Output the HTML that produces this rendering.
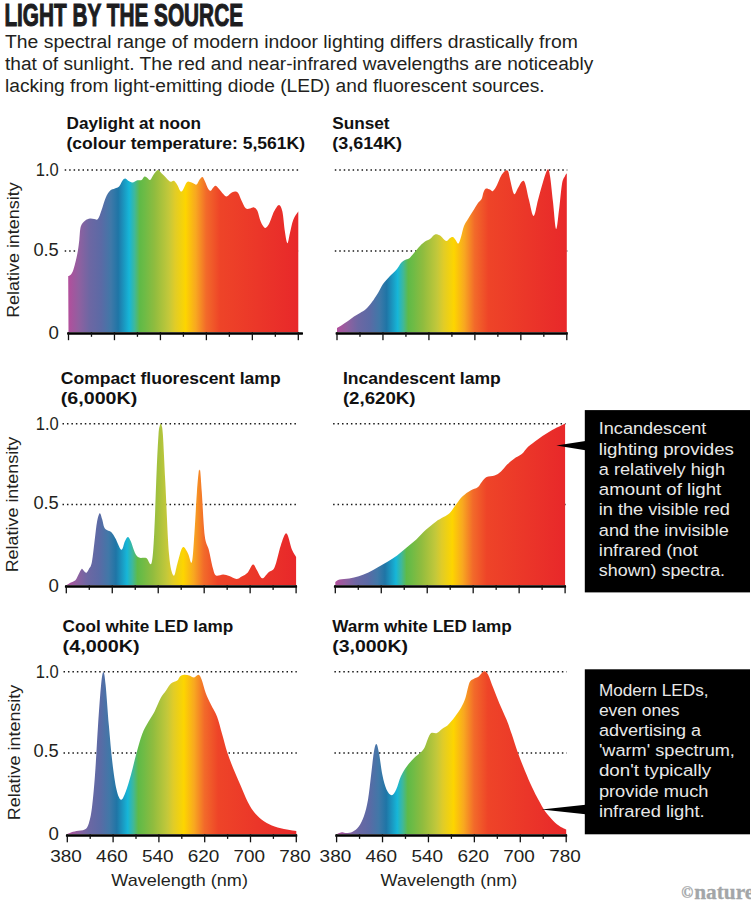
<!DOCTYPE html>
<html><head><meta charset="utf-8"><style>
html,body{margin:0;padding:0;background:#fff;}
svg{display:block;font-family:"Liberation Sans",sans-serif;}
</style></head><body>
<svg width="751" height="900" viewBox="0 0 751 900">
<defs><linearGradient id="gp1" gradientUnits="userSpaceOnUse" x1="68.5" y1="0" x2="298.3" y2="0"><stop offset="0.0" stop-color="#b24f9c"/><stop offset="0.045" stop-color="#9060a0"/><stop offset="0.091" stop-color="#6d67a3"/><stop offset="0.142" stop-color="#5b6aa5"/><stop offset="0.184" stop-color="#4078a8"/><stop offset="0.216" stop-color="#1f75a6"/><stop offset="0.264" stop-color="#16b6d8"/><stop offset="0.288" stop-color="#3fb89a"/><stop offset="0.31" stop-color="#5fba47"/><stop offset="0.33" stop-color="#6cbb46"/><stop offset="0.374" stop-color="#8fbc3f"/><stop offset="0.437" stop-color="#c4c83a"/><stop offset="0.463" stop-color="#e0cc28"/><stop offset="0.509" stop-color="#fdd500"/><stop offset="0.554" stop-color="#f8a820"/><stop offset="0.599" stop-color="#f26a2a"/><stop offset="0.659" stop-color="#ee4428"/><stop offset="1.0" stop-color="#e8282a"/></linearGradient><linearGradient id="gp2" gradientUnits="userSpaceOnUse" x1="337" y1="0" x2="566.8" y2="0"><stop offset="0.0" stop-color="#b24f9c"/><stop offset="0.045" stop-color="#9060a0"/><stop offset="0.091" stop-color="#6d67a3"/><stop offset="0.142" stop-color="#5b6aa5"/><stop offset="0.184" stop-color="#4078a8"/><stop offset="0.216" stop-color="#1f75a6"/><stop offset="0.264" stop-color="#16b6d8"/><stop offset="0.288" stop-color="#3fb89a"/><stop offset="0.31" stop-color="#5fba47"/><stop offset="0.33" stop-color="#6cbb46"/><stop offset="0.374" stop-color="#8fbc3f"/><stop offset="0.437" stop-color="#c4c83a"/><stop offset="0.463" stop-color="#e0cc28"/><stop offset="0.509" stop-color="#fdd500"/><stop offset="0.554" stop-color="#f8a820"/><stop offset="0.599" stop-color="#f26a2a"/><stop offset="0.659" stop-color="#ee4428"/><stop offset="1.0" stop-color="#e8282a"/></linearGradient><linearGradient id="gp3" gradientUnits="userSpaceOnUse" x1="66.3" y1="0" x2="296.1" y2="0"><stop offset="0.0" stop-color="#b24f9c"/><stop offset="0.045" stop-color="#9060a0"/><stop offset="0.091" stop-color="#6d67a3"/><stop offset="0.142" stop-color="#5b6aa5"/><stop offset="0.184" stop-color="#4078a8"/><stop offset="0.216" stop-color="#1f75a6"/><stop offset="0.264" stop-color="#16b6d8"/><stop offset="0.288" stop-color="#3fb89a"/><stop offset="0.31" stop-color="#5fba47"/><stop offset="0.33" stop-color="#6cbb46"/><stop offset="0.374" stop-color="#8fbc3f"/><stop offset="0.437" stop-color="#c4c83a"/><stop offset="0.463" stop-color="#e0cc28"/><stop offset="0.509" stop-color="#fdd500"/><stop offset="0.554" stop-color="#f8a820"/><stop offset="0.599" stop-color="#f26a2a"/><stop offset="0.659" stop-color="#ee4428"/><stop offset="1.0" stop-color="#e8282a"/></linearGradient><linearGradient id="gp4" gradientUnits="userSpaceOnUse" x1="335.3" y1="0" x2="565.1" y2="0"><stop offset="0.0" stop-color="#b24f9c"/><stop offset="0.045" stop-color="#9060a0"/><stop offset="0.091" stop-color="#6d67a3"/><stop offset="0.142" stop-color="#5b6aa5"/><stop offset="0.184" stop-color="#4078a8"/><stop offset="0.216" stop-color="#1f75a6"/><stop offset="0.264" stop-color="#16b6d8"/><stop offset="0.288" stop-color="#3fb89a"/><stop offset="0.31" stop-color="#5fba47"/><stop offset="0.33" stop-color="#6cbb46"/><stop offset="0.374" stop-color="#8fbc3f"/><stop offset="0.437" stop-color="#c4c83a"/><stop offset="0.463" stop-color="#e0cc28"/><stop offset="0.509" stop-color="#fdd500"/><stop offset="0.554" stop-color="#f8a820"/><stop offset="0.599" stop-color="#f26a2a"/><stop offset="0.659" stop-color="#ee4428"/><stop offset="1.0" stop-color="#e8282a"/></linearGradient><linearGradient id="gp5" gradientUnits="userSpaceOnUse" x1="67.3" y1="0" x2="296.3" y2="0"><stop offset="0.0" stop-color="#b24f9c"/><stop offset="0.045" stop-color="#9060a0"/><stop offset="0.091" stop-color="#6d67a3"/><stop offset="0.142" stop-color="#5b6aa5"/><stop offset="0.184" stop-color="#4078a8"/><stop offset="0.216" stop-color="#1f75a6"/><stop offset="0.264" stop-color="#16b6d8"/><stop offset="0.288" stop-color="#3fb89a"/><stop offset="0.31" stop-color="#5fba47"/><stop offset="0.33" stop-color="#6cbb46"/><stop offset="0.374" stop-color="#8fbc3f"/><stop offset="0.437" stop-color="#c4c83a"/><stop offset="0.463" stop-color="#e0cc28"/><stop offset="0.509" stop-color="#fdd500"/><stop offset="0.554" stop-color="#f8a820"/><stop offset="0.599" stop-color="#f26a2a"/><stop offset="0.659" stop-color="#ee4428"/><stop offset="1.0" stop-color="#e8282a"/></linearGradient><linearGradient id="gp6" gradientUnits="userSpaceOnUse" x1="336.6" y1="0" x2="566.2" y2="0"><stop offset="0.0" stop-color="#b24f9c"/><stop offset="0.045" stop-color="#9060a0"/><stop offset="0.091" stop-color="#6d67a3"/><stop offset="0.142" stop-color="#5b6aa5"/><stop offset="0.184" stop-color="#4078a8"/><stop offset="0.216" stop-color="#1f75a6"/><stop offset="0.264" stop-color="#16b6d8"/><stop offset="0.288" stop-color="#3fb89a"/><stop offset="0.31" stop-color="#5fba47"/><stop offset="0.33" stop-color="#6cbb46"/><stop offset="0.374" stop-color="#8fbc3f"/><stop offset="0.437" stop-color="#c4c83a"/><stop offset="0.463" stop-color="#e0cc28"/><stop offset="0.509" stop-color="#fdd500"/><stop offset="0.554" stop-color="#f8a820"/><stop offset="0.599" stop-color="#f26a2a"/><stop offset="0.659" stop-color="#ee4428"/><stop offset="1.0" stop-color="#e8282a"/></linearGradient></defs>
<line x1="64.7" y1="169.9" x2="298.8" y2="169.9" stroke="#1a1a1a" stroke-width="1.5" stroke-dasharray="1.5 2.96"/>
<line x1="64.7" y1="251.1" x2="298.8" y2="251.1" stroke="#1a1a1a" stroke-width="1.5" stroke-dasharray="1.5 2.96"/>
<path d="M68.50,332.20 L68.20,276.00 C68.62,275.78 69.85,275.70 70.70,274.70 C71.55,273.70 72.42,272.45 73.30,270.00 C74.18,267.55 75.22,263.33 76.00,260.00 C76.78,256.67 77.45,253.33 78.00,250.00 C78.55,246.67 78.83,243.90 79.30,240.00 C79.77,236.10 79.85,229.80 80.80,226.60 C81.75,223.40 83.47,222.13 85.00,220.80 C86.53,219.47 88.48,218.88 90.00,218.60 C91.52,218.32 92.78,219.02 94.10,219.10 C95.42,219.18 96.65,220.63 97.90,219.10 C99.15,217.57 100.28,213.50 101.60,209.90 C102.92,206.30 104.40,200.68 105.80,197.50 C107.20,194.32 108.48,192.28 110.00,190.80 C111.52,189.32 113.38,189.30 114.90,188.60 C116.42,187.90 117.85,187.90 119.10,186.60 C120.35,185.30 121.38,182.13 122.40,180.80 C123.42,179.47 124.23,178.60 125.20,178.60 C126.17,178.60 127.00,180.15 128.20,180.80 C129.40,181.45 130.87,182.58 132.40,182.50 C133.93,182.42 135.87,180.72 137.40,180.30 C138.93,179.88 140.40,180.62 141.60,180.00 C142.80,179.38 143.63,176.93 144.60,176.60 C145.57,176.27 146.47,177.43 147.40,178.00 C148.33,178.57 149.10,180.65 150.20,180.00 C151.30,179.35 152.72,175.77 154.00,174.10 C155.28,172.43 156.65,170.13 157.90,170.00 C159.15,169.87 160.33,172.20 161.50,173.30 C162.67,174.40 163.50,175.22 164.90,176.60 C166.30,177.98 168.38,180.90 169.90,181.60 C171.42,182.30 172.77,180.23 174.00,180.80 C175.23,181.37 176.05,183.20 177.30,185.00 C178.55,186.80 179.93,192.02 181.50,191.60 C183.07,191.18 185.28,184.10 186.70,182.50 C188.12,180.90 188.90,181.87 190.00,182.00 C191.10,182.13 192.20,182.87 193.30,183.30 C194.40,183.73 195.55,185.22 196.60,184.60 C197.65,183.98 198.62,180.87 199.60,179.60 C200.58,178.33 201.60,176.67 202.50,177.00 C203.40,177.33 204.03,179.58 205.00,181.60 C205.97,183.62 207.33,187.57 208.30,189.10 C209.27,190.63 209.97,191.07 210.80,190.80 C211.63,190.53 212.47,188.33 213.30,187.50 C214.13,186.67 214.83,185.53 215.80,185.80 C216.77,186.07 217.85,187.72 219.10,189.10 C220.35,190.48 222.05,192.85 223.30,194.10 C224.55,195.35 225.35,196.73 226.60,196.60 C227.85,196.47 229.42,194.13 230.80,193.30 C232.18,192.47 233.65,191.60 234.90,191.60 C236.15,191.60 237.18,191.77 238.30,193.30 C239.42,194.83 240.37,198.30 241.60,200.80 C242.83,203.30 244.32,207.00 245.70,208.30 C247.08,209.60 248.50,208.75 249.90,208.60 C251.30,208.45 252.85,207.03 254.10,207.40 C255.35,207.77 256.30,208.43 257.40,210.80 C258.50,213.17 259.45,218.75 260.70,221.60 C261.95,224.45 263.52,227.48 264.90,227.90 C266.28,228.32 267.48,226.82 269.00,224.10 C270.52,221.38 272.33,214.80 274.00,211.60 C275.67,208.40 277.60,204.90 279.00,204.90 C280.40,204.90 281.42,207.15 282.40,211.60 C283.38,216.05 284.07,226.33 284.90,231.60 C285.73,236.87 286.57,242.93 287.40,243.20 C288.23,243.47 288.93,237.08 289.90,233.20 C290.87,229.32 291.82,223.52 293.20,219.90 C294.58,216.28 297.37,212.90 298.20,211.50 L298.30,211.50 L298.30,332.20 Z" fill="url(#gp1)"/>
<rect x="67.10" y="332.20" width="235.90" height="2.5" rx="0.6" fill="#000"/>
<rect x="67.85" y="332.20" width="1.3" height="8" fill="#111"/>
<rect x="90.83" y="332.20" width="1.3" height="4.6" fill="#111"/>
<rect x="113.81" y="332.20" width="1.3" height="8" fill="#111"/>
<rect x="136.79" y="332.20" width="1.3" height="4.6" fill="#111"/>
<rect x="159.77" y="332.20" width="1.3" height="8" fill="#111"/>
<rect x="182.75" y="332.20" width="1.3" height="4.6" fill="#111"/>
<rect x="205.73" y="332.20" width="1.3" height="8" fill="#111"/>
<rect x="228.71" y="332.20" width="1.3" height="4.6" fill="#111"/>
<rect x="251.69" y="332.20" width="1.3" height="8" fill="#111"/>
<rect x="274.67" y="332.20" width="1.3" height="4.6" fill="#111"/>
<rect x="297.65" y="332.20" width="1.3" height="8" fill="#111"/>
<line x1="334.8" y1="169.9" x2="567.3" y2="169.9" stroke="#1a1a1a" stroke-width="1.5" stroke-dasharray="1.5 2.96"/>
<line x1="334.8" y1="251.1" x2="567.3" y2="251.1" stroke="#1a1a1a" stroke-width="1.5" stroke-dasharray="1.5 2.96"/>
<path d="M337.00,332.20 L337.00,328.00 C337.83,327.50 340.17,326.17 342.00,325.00 C343.83,323.83 346.00,322.40 348.00,321.00 C350.00,319.60 352.00,317.93 354.00,316.60 C356.00,315.27 358.00,314.27 360.00,313.00 C362.00,311.73 364.00,310.83 366.00,309.00 C368.00,307.17 370.00,304.67 372.00,302.00 C374.00,299.33 376.17,296.00 378.00,293.00 C379.83,290.00 381.00,286.83 383.00,284.00 C385.00,281.17 387.67,278.50 390.00,276.00 C392.33,273.50 395.17,271.17 397.00,269.00 C398.83,266.83 399.67,264.50 401.00,263.00 C402.33,261.50 403.67,260.73 405.00,260.00 C406.33,259.27 407.50,259.77 409.00,258.60 C410.50,257.43 412.17,255.10 414.00,253.00 C415.83,250.90 418.17,247.90 420.00,246.00 C421.83,244.10 423.33,242.77 425.00,241.60 C426.67,240.43 428.33,240.20 430.00,239.00 C431.67,237.80 433.33,234.97 435.00,234.40 C436.67,233.83 438.17,234.50 440.00,235.60 C441.83,236.70 444.33,240.60 446.00,241.00 C447.67,241.40 448.83,238.67 450.00,238.00 C451.17,237.33 452.07,236.67 453.00,237.00 C453.93,237.33 454.70,238.90 455.60,240.00 C456.50,241.10 457.50,244.10 458.40,243.60 C459.30,243.10 460.07,239.93 461.00,237.00 C461.93,234.07 462.83,229.00 464.00,226.00 C465.17,223.00 466.50,221.50 468.00,219.00 C469.50,216.50 471.33,213.67 473.00,211.00 C474.67,208.33 476.57,205.00 478.00,203.00 C479.43,201.00 480.67,200.83 481.60,199.00 C482.53,197.17 482.87,193.73 483.60,192.00 C484.33,190.27 484.93,189.00 486.00,188.60 C487.07,188.20 488.83,189.20 490.00,189.60 C491.17,190.00 491.83,191.77 493.00,191.00 C494.17,190.23 495.67,187.50 497.00,185.00 C498.33,182.50 499.67,178.33 501.00,176.00 C502.33,173.67 503.83,171.83 505.00,171.00 C506.17,170.17 507.17,169.67 508.00,171.00 C508.83,172.33 509.00,175.17 510.00,179.00 C511.00,182.83 512.67,192.50 514.00,194.00 C515.33,195.50 516.67,190.07 518.00,188.00 C519.33,185.93 520.83,182.43 522.00,181.60 C523.17,180.77 523.83,179.93 525.00,183.00 C526.17,186.07 527.57,194.50 529.00,200.00 C530.43,205.50 532.10,216.00 533.60,216.00 C535.10,216.00 536.43,205.67 538.00,200.00 C539.57,194.33 541.40,187.07 543.00,182.00 C544.60,176.93 546.43,170.60 547.60,169.60 C548.77,168.60 549.10,170.60 550.00,176.00 C550.90,181.40 552.00,193.17 553.00,202.00 C554.00,210.83 555.00,227.67 556.00,229.00 C557.00,230.33 558.00,217.50 559.00,210.00 C560.00,202.50 561.00,189.67 562.00,184.00 C563.00,178.33 564.17,177.83 565.00,176.00 C565.83,174.17 566.67,173.50 567.00,173.00 L566.80,173.00 L566.80,332.20 Z" fill="url(#gp2)"/>
<rect x="335.60" y="332.20" width="232.20" height="2.5" rx="0.6" fill="#000"/>
<rect x="336.35" y="332.20" width="1.3" height="8" fill="#111"/>
<rect x="359.33" y="332.20" width="1.3" height="4.6" fill="#111"/>
<rect x="382.31" y="332.20" width="1.3" height="8" fill="#111"/>
<rect x="405.29" y="332.20" width="1.3" height="4.6" fill="#111"/>
<rect x="428.27" y="332.20" width="1.3" height="8" fill="#111"/>
<rect x="451.25" y="332.20" width="1.3" height="4.6" fill="#111"/>
<rect x="474.23" y="332.20" width="1.3" height="8" fill="#111"/>
<rect x="497.21" y="332.20" width="1.3" height="4.6" fill="#111"/>
<rect x="520.19" y="332.20" width="1.3" height="8" fill="#111"/>
<rect x="543.17" y="332.20" width="1.3" height="4.6" fill="#111"/>
<rect x="566.15" y="332.20" width="1.3" height="8" fill="#111"/>
<line x1="62.5" y1="423.8" x2="296.6" y2="423.8" stroke="#1a1a1a" stroke-width="1.5" stroke-dasharray="1.5 2.96"/>
<line x1="62.5" y1="504.6" x2="296.6" y2="504.6" stroke="#1a1a1a" stroke-width="1.5" stroke-dasharray="1.5 2.96"/>
<path d="M66.30,585.30 L66.30,585.20 C66.97,584.78 68.78,583.53 70.30,582.70 C71.82,581.87 74.03,581.57 75.40,580.20 C76.77,578.83 77.47,576.38 78.50,574.50 C79.53,572.62 80.75,569.58 81.60,568.90 C82.45,568.22 82.82,569.75 83.60,570.40 C84.38,571.05 85.43,572.98 86.30,572.80 C87.17,572.62 87.87,571.08 88.80,569.30 C89.73,567.52 90.87,567.40 91.90,562.10 C92.93,556.80 94.15,544.18 95.00,537.50 C95.85,530.82 96.22,526.05 97.00,522.00 C97.78,517.95 98.85,513.70 99.70,513.20 C100.55,512.70 101.35,516.67 102.10,519.00 C102.85,521.33 103.33,525.32 104.20,527.20 C105.07,529.08 106.10,529.45 107.30,530.30 C108.50,531.15 110.03,530.93 111.40,532.30 C112.77,533.67 113.85,535.58 115.50,538.50 C117.15,541.42 119.75,549.28 121.30,549.80 C122.85,550.32 123.72,543.73 124.80,541.60 C125.88,539.47 126.78,537.00 127.80,537.00 C128.82,537.00 129.70,538.95 130.90,541.60 C132.10,544.25 133.62,550.23 135.00,552.90 C136.38,555.57 137.32,556.75 139.20,557.60 C141.08,558.45 144.25,557.07 146.30,558.00 C148.35,558.93 150.18,567.30 151.50,563.20 C152.82,559.10 153.35,548.65 154.20,533.40 C155.05,518.15 155.88,488.15 156.60,471.70 C157.32,455.25 157.95,442.45 158.50,434.70 C159.05,426.95 159.53,426.95 159.90,425.20 C160.27,423.45 160.43,424.20 160.70,424.20 C160.97,424.20 161.13,423.45 161.50,425.20 C161.87,426.95 162.27,425.23 162.90,434.70 C163.53,444.17 164.28,462.13 165.30,482.00 C166.32,501.87 167.63,538.32 169.00,553.90 C170.37,569.48 172.13,573.78 173.50,575.50 C174.87,577.22 175.90,568.48 177.20,564.20 C178.50,559.92 180.15,552.62 181.30,549.80 C182.45,546.98 182.95,546.62 184.10,547.30 C185.25,547.98 186.90,551.43 188.20,553.90 C189.50,556.37 190.87,565.52 191.90,562.10 C192.93,558.68 193.57,545.05 194.40,533.40 C195.23,521.75 196.18,502.47 196.90,492.20 C197.62,481.93 198.27,475.40 198.70,471.80 C199.13,468.20 199.23,470.60 199.50,470.60 C199.77,470.60 199.92,468.20 200.30,471.80 C200.68,475.40 201.07,481.60 201.80,492.20 C202.53,502.80 203.53,525.80 204.70,535.40 C205.87,545.00 207.43,544.32 208.80,549.80 C210.17,555.28 211.70,564.02 212.90,568.30 C214.10,572.58 214.28,574.47 216.00,575.50 C217.72,576.53 220.98,574.40 223.20,574.50 C225.42,574.60 227.08,575.35 229.30,576.10 C231.52,576.85 234.43,578.93 236.50,579.00 C238.57,579.07 239.82,577.60 241.70,576.50 C243.58,575.40 245.92,574.38 247.80,572.40 C249.68,570.42 251.45,564.93 253.00,564.60 C254.55,564.27 255.57,568.13 257.10,570.40 C258.63,572.67 260.32,577.87 262.20,578.20 C264.08,578.53 266.33,574.22 268.40,572.40 C270.47,570.58 272.55,571.75 274.60,567.30 C276.65,562.85 278.72,551.35 280.70,545.70 C282.68,540.05 284.62,532.72 286.50,533.40 C288.38,534.08 290.40,545.87 292.00,549.80 C293.60,553.73 295.42,555.80 296.10,557.00 L296.10,557.00 L296.10,585.30 Z" fill="url(#gp3)"/>
<rect x="64.90" y="585.30" width="232.20" height="2.5" rx="0.6" fill="#000"/>
<rect x="65.65" y="585.30" width="1.3" height="8" fill="#111"/>
<rect x="88.63" y="585.30" width="1.3" height="4.6" fill="#111"/>
<rect x="111.61" y="585.30" width="1.3" height="8" fill="#111"/>
<rect x="134.59" y="585.30" width="1.3" height="4.6" fill="#111"/>
<rect x="157.57" y="585.30" width="1.3" height="8" fill="#111"/>
<rect x="180.55" y="585.30" width="1.3" height="4.6" fill="#111"/>
<rect x="203.53" y="585.30" width="1.3" height="8" fill="#111"/>
<rect x="226.51" y="585.30" width="1.3" height="4.6" fill="#111"/>
<rect x="249.49" y="585.30" width="1.3" height="8" fill="#111"/>
<rect x="272.47" y="585.30" width="1.3" height="4.6" fill="#111"/>
<rect x="295.45" y="585.30" width="1.3" height="8" fill="#111"/>
<line x1="333.1" y1="423.8" x2="565.6" y2="423.8" stroke="#1a1a1a" stroke-width="1.5" stroke-dasharray="1.5 2.96"/>
<line x1="333.1" y1="504.6" x2="565.6" y2="504.6" stroke="#1a1a1a" stroke-width="1.5" stroke-dasharray="1.5 2.96"/>
<path d="M335.30,585.30 L335.30,582.00 C336.02,581.57 337.28,580.00 339.60,579.40 C341.92,578.80 346.00,578.93 349.20,578.40 C352.40,577.87 355.60,577.20 358.80,576.20 C362.00,575.20 365.22,573.90 368.40,572.40 C371.58,570.90 374.72,568.97 377.90,567.20 C381.08,565.43 384.30,563.77 387.50,561.80 C390.70,559.83 393.90,557.80 397.10,555.40 C400.30,553.00 403.50,550.07 406.70,547.40 C409.90,544.73 413.10,542.33 416.30,539.40 C419.50,536.47 422.70,532.72 425.90,529.80 C429.10,526.88 432.57,524.02 435.50,521.90 C438.43,519.78 441.12,518.60 443.50,517.10 C445.88,515.60 447.68,515.03 449.80,512.90 C451.92,510.77 454.07,507.07 456.20,504.30 C458.33,501.53 460.20,498.60 462.60,496.30 C465.00,494.00 468.08,492.00 470.60,490.50 C473.12,489.00 475.83,488.73 477.70,487.30 C479.57,485.87 480.32,483.60 481.80,481.90 C483.28,480.20 484.47,478.17 486.60,477.10 C488.73,476.03 492.20,476.45 494.60,475.50 C497.00,474.55 498.87,473.27 501.00,471.40 C503.13,469.53 505.27,466.38 507.40,464.30 C509.53,462.22 511.40,460.60 513.80,458.90 C516.20,457.20 519.42,456.12 521.80,454.10 C524.18,452.08 525.45,449.25 528.10,446.80 C530.75,444.35 534.50,441.70 537.70,439.40 C540.90,437.10 544.10,434.97 547.30,433.00 C550.50,431.03 553.93,429.20 556.90,427.60 C559.87,426.00 563.73,424.10 565.10,423.40 L565.10,423.40 L565.10,585.30 Z" fill="url(#gp4)"/>
<rect x="333.90" y="585.30" width="232.20" height="2.5" rx="0.6" fill="#000"/>
<rect x="334.65" y="585.30" width="1.3" height="8" fill="#111"/>
<rect x="357.63" y="585.30" width="1.3" height="4.6" fill="#111"/>
<rect x="380.61" y="585.30" width="1.3" height="8" fill="#111"/>
<rect x="403.59" y="585.30" width="1.3" height="4.6" fill="#111"/>
<rect x="426.57" y="585.30" width="1.3" height="8" fill="#111"/>
<rect x="449.55" y="585.30" width="1.3" height="4.6" fill="#111"/>
<rect x="472.53" y="585.30" width="1.3" height="8" fill="#111"/>
<rect x="495.51" y="585.30" width="1.3" height="4.6" fill="#111"/>
<rect x="518.49" y="585.30" width="1.3" height="8" fill="#111"/>
<rect x="541.47" y="585.30" width="1.3" height="4.6" fill="#111"/>
<rect x="564.45" y="585.30" width="1.3" height="8" fill="#111"/>
<line x1="63.5" y1="671.7" x2="296.8" y2="671.7" stroke="#1a1a1a" stroke-width="1.5" stroke-dasharray="1.5 2.96"/>
<line x1="63.5" y1="753.1" x2="296.8" y2="753.1" stroke="#1a1a1a" stroke-width="1.5" stroke-dasharray="1.5 2.96"/>
<path d="M67.30,834.30 L67.30,834.00 C67.80,833.78 68.78,833.20 70.30,832.70 C71.82,832.20 74.00,831.52 76.40,831.00 C78.80,830.48 82.63,830.87 84.70,829.60 C86.77,828.33 87.60,827.00 88.80,823.40 C90.00,819.80 90.87,816.05 91.90,808.00 C92.93,799.95 93.98,788.80 95.00,775.10 C96.02,761.40 96.98,740.87 98.00,725.80 C99.02,710.73 100.20,693.68 101.10,684.70 C102.00,675.72 102.65,671.90 103.40,671.90 C104.15,671.90 104.68,675.72 105.60,684.70 C106.52,693.68 107.77,712.78 108.90,725.80 C110.03,738.82 111.13,752.18 112.40,762.80 C113.67,773.42 115.05,783.33 116.50,789.50 C117.95,795.67 119.55,799.45 121.10,799.80 C122.65,800.15 124.17,795.72 125.80,791.60 C127.43,787.48 129.18,781.27 130.90,775.10 C132.62,768.93 134.22,761.45 136.10,754.60 C137.98,747.75 140.15,739.48 142.20,734.00 C144.25,728.52 146.33,725.47 148.40,721.70 C150.47,717.93 152.55,715.35 154.60,711.40 C156.65,707.45 158.82,701.43 160.70,698.00 C162.58,694.57 164.18,693.20 165.90,690.80 C167.62,688.40 169.12,685.30 171.00,683.60 C172.88,681.90 175.70,681.80 177.20,680.60 C178.70,679.40 178.85,677.37 180.00,676.40 C181.15,675.43 182.55,674.97 184.10,674.80 C185.65,674.63 187.65,674.95 189.30,675.40 C190.95,675.85 192.47,677.60 194.00,677.50 C195.53,677.40 197.23,674.47 198.50,674.80 C199.77,675.13 200.40,676.48 201.60,679.50 C202.80,682.52 204.17,688.78 205.70,692.90 C207.23,697.02 208.92,700.27 210.80,704.20 C212.68,708.13 215.12,711.53 217.00,716.50 C218.88,721.47 220.38,728.00 222.10,734.00 C223.82,740.00 225.40,746.67 227.30,752.50 C229.20,758.33 231.28,763.52 233.50,769.00 C235.72,774.48 238.22,779.92 240.60,785.40 C242.98,790.88 245.40,797.27 247.80,801.90 C250.20,806.53 252.25,809.95 255.00,813.20 C257.75,816.45 261.03,819.18 264.30,821.40 C267.57,823.62 270.83,825.13 274.60,826.50 C278.37,827.87 283.28,828.85 286.90,829.60 C290.52,830.35 294.73,830.77 296.30,831.00 L296.30,831.00 L296.30,834.30 Z" fill="url(#gp5)"/>
<rect x="65.90" y="834.30" width="231.40" height="2.5" rx="0.6" fill="#000"/>
<rect x="66.65" y="834.30" width="1.3" height="8" fill="#111"/>
<rect x="89.55" y="834.30" width="1.3" height="4.6" fill="#111"/>
<rect x="112.45" y="834.30" width="1.3" height="8" fill="#111"/>
<rect x="135.35" y="834.30" width="1.3" height="4.6" fill="#111"/>
<rect x="158.25" y="834.30" width="1.3" height="8" fill="#111"/>
<rect x="181.15" y="834.30" width="1.3" height="4.6" fill="#111"/>
<rect x="204.05" y="834.30" width="1.3" height="8" fill="#111"/>
<rect x="226.95" y="834.30" width="1.3" height="4.6" fill="#111"/>
<rect x="249.85" y="834.30" width="1.3" height="8" fill="#111"/>
<rect x="272.75" y="834.30" width="1.3" height="4.6" fill="#111"/>
<rect x="295.65" y="834.30" width="1.3" height="8" fill="#111"/>
<line x1="334.4" y1="671.7" x2="566.7" y2="671.7" stroke="#1a1a1a" stroke-width="1.5" stroke-dasharray="1.5 2.96"/>
<line x1="334.4" y1="753.1" x2="566.7" y2="753.1" stroke="#1a1a1a" stroke-width="1.5" stroke-dasharray="1.5 2.96"/>
<path d="M336.60,834.30 L337.20,834.00 C337.55,833.85 338.38,833.38 339.30,833.10 C340.22,832.82 341.52,832.30 342.70,832.30 C343.88,832.30 344.75,833.20 346.40,833.10 C348.05,833.00 350.53,832.80 352.60,831.70 C354.67,830.60 356.92,829.07 358.80,826.50 C360.68,823.93 362.37,820.75 363.90,816.30 C365.43,811.85 366.80,806.67 368.00,799.80 C369.20,792.93 370.13,782.98 371.10,775.10 C372.07,767.22 372.93,757.70 373.80,752.50 C374.67,747.30 375.45,743.90 376.30,743.90 C377.15,743.90 377.88,747.30 378.90,752.50 C379.92,757.70 381.13,768.93 382.40,775.10 C383.67,781.27 384.95,786.13 386.50,789.50 C388.05,792.87 390.08,795.30 391.70,795.30 C393.32,795.30 394.67,792.68 396.20,789.50 C397.73,786.32 399.08,780.13 400.90,776.20 C402.72,772.27 404.87,768.98 407.10,765.90 C409.33,762.82 412.07,759.93 414.30,757.70 C416.53,755.47 418.78,754.22 420.50,752.50 C422.22,750.78 423.40,749.62 424.60,747.40 C425.80,745.18 426.60,741.60 427.70,739.20 C428.80,736.80 429.67,734.03 431.20,733.00 C432.73,731.97 435.10,733.68 436.90,733.00 C438.70,732.32 440.28,730.10 442.00,728.90 C443.72,727.70 445.65,727.07 447.20,725.80 C448.75,724.53 449.98,722.85 451.30,721.30 C452.62,719.75 453.43,718.83 455.10,716.50 C456.77,714.17 459.58,710.38 461.30,707.30 C463.02,704.22 464.03,702.12 465.40,698.00 C466.77,693.88 468.13,685.78 469.50,682.60 C470.87,679.42 472.05,679.93 473.60,678.90 C475.15,677.87 477.08,677.67 478.80,676.40 C480.52,675.13 482.37,671.63 483.90,671.30 C485.43,670.97 486.45,671.65 488.00,674.40 C489.55,677.15 491.32,683.00 493.20,687.80 C495.08,692.60 497.08,697.90 499.30,703.20 C501.52,708.50 504.43,714.47 506.50,719.60 C508.57,724.73 509.82,728.52 511.70,734.00 C513.58,739.48 515.58,746.33 517.80,752.50 C520.02,758.67 522.60,765.17 525.00,771.00 C527.40,776.83 529.97,782.70 532.20,787.50 C534.43,792.30 536.17,795.70 538.40,799.80 C540.63,803.90 542.85,808.33 545.60,812.10 C548.35,815.87 552.17,819.82 554.90,822.40 C557.63,824.98 560.12,826.40 562.00,827.60 C563.88,828.80 565.50,829.27 566.20,829.60 L566.20,829.60 L566.20,834.30 Z" fill="url(#gp6)"/>
<rect x="335.20" y="834.30" width="232.00" height="2.5" rx="0.6" fill="#000"/>
<rect x="335.95" y="834.30" width="1.3" height="8" fill="#111"/>
<rect x="358.91" y="834.30" width="1.3" height="4.6" fill="#111"/>
<rect x="381.87" y="834.30" width="1.3" height="8" fill="#111"/>
<rect x="404.83" y="834.30" width="1.3" height="4.6" fill="#111"/>
<rect x="427.79" y="834.30" width="1.3" height="8" fill="#111"/>
<rect x="450.75" y="834.30" width="1.3" height="4.6" fill="#111"/>
<rect x="473.71" y="834.30" width="1.3" height="8" fill="#111"/>
<rect x="496.67" y="834.30" width="1.3" height="4.6" fill="#111"/>
<rect x="519.63" y="834.30" width="1.3" height="8" fill="#111"/>
<rect x="542.59" y="834.30" width="1.3" height="4.6" fill="#111"/>
<rect x="565.55" y="834.30" width="1.3" height="8" fill="#111"/>
<text x="58.8" y="176.4" font-size="17.6" font-weight="normal" text-anchor="end" fill="#231f20" textLength="23" lengthAdjust="spacingAndGlyphs">1.0</text>
<text x="58.8" y="255.6" font-size="17.6" font-weight="normal" text-anchor="end" fill="#231f20" textLength="25.4" lengthAdjust="spacingAndGlyphs">0.5</text>
<text x="58.8" y="338.6" font-size="17.6" font-weight="normal" text-anchor="end" fill="#231f20" textLength="10.4" lengthAdjust="spacingAndGlyphs">0</text>
<text transform="translate(19.0,250.1) rotate(-90)" font-size="16.4" text-anchor="middle" fill="#231f20" textLength="135.5" lengthAdjust="spacingAndGlyphs">Relative intensity</text>
<text x="58.8" y="429.9" font-size="17.6" font-weight="normal" text-anchor="end" fill="#231f20" textLength="23" lengthAdjust="spacingAndGlyphs">1.0</text>
<text x="58.8" y="508.7" font-size="17.6" font-weight="normal" text-anchor="end" fill="#231f20" textLength="25.4" lengthAdjust="spacingAndGlyphs">0.5</text>
<text x="58.8" y="592.2" font-size="17.6" font-weight="normal" text-anchor="end" fill="#231f20" textLength="10.4" lengthAdjust="spacingAndGlyphs">0</text>
<text transform="translate(17.8,504.6) rotate(-90)" font-size="16.4" text-anchor="middle" fill="#231f20" textLength="135.5" lengthAdjust="spacingAndGlyphs">Relative intensity</text>
<text x="58.8" y="677.6" font-size="17.6" font-weight="normal" text-anchor="end" fill="#231f20" textLength="23" lengthAdjust="spacingAndGlyphs">1.0</text>
<text x="58.8" y="756.7" font-size="17.6" font-weight="normal" text-anchor="end" fill="#231f20" textLength="25.4" lengthAdjust="spacingAndGlyphs">0.5</text>
<text x="58.8" y="840.2" font-size="17.6" font-weight="normal" text-anchor="end" fill="#231f20" textLength="10.4" lengthAdjust="spacingAndGlyphs">0</text>
<text transform="translate(19.9,752.5) rotate(-90)" font-size="16.4" text-anchor="middle" fill="#231f20" textLength="135.5" lengthAdjust="spacingAndGlyphs">Relative intensity</text>
<text x="4.4" y="25.7" font-size="31.8" font-weight="bold" text-anchor="start" fill="#1d1d1f" textLength="238.6" lengthAdjust="spacingAndGlyphs" stroke="#1d1d1f" stroke-width="1.1" stroke-linejoin="miter">LIGHT BY THE SOURCE</text>
<text x="5" y="48.3" font-size="17.6" font-weight="normal" text-anchor="start" fill="#231f20" textLength="572.8" lengthAdjust="spacingAndGlyphs">The spectral range of modern indoor lighting differs drastically from</text>
<text x="5" y="70.2" font-size="17.6" font-weight="normal" text-anchor="start" fill="#231f20" textLength="588.2" lengthAdjust="spacingAndGlyphs">that of sunlight. The red and near-infrared wavelengths are noticeably</text>
<text x="5" y="91.80000000000001" font-size="17.6" font-weight="normal" text-anchor="start" fill="#231f20" textLength="539.6" lengthAdjust="spacingAndGlyphs">lacking from light-emitting diode (LED) and fluorescent sources.</text>
<text x="66.5" y="128.7" font-size="15.6" font-weight="bold" text-anchor="start" fill="#111" textLength="134.6" lengthAdjust="spacingAndGlyphs">Daylight at noon</text>
<text x="66.5" y="148.5" font-size="15.6" font-weight="bold" text-anchor="start" fill="#111" textLength="238.5" lengthAdjust="spacingAndGlyphs">(colour temperature: 5,561K)</text>
<text x="332.2" y="128.7" font-size="15.6" font-weight="bold" text-anchor="start" fill="#111" textLength="57.4" lengthAdjust="spacingAndGlyphs">Sunset</text>
<text x="332.2" y="148.5" font-size="15.6" font-weight="bold" text-anchor="start" fill="#111" textLength="69.9" lengthAdjust="spacingAndGlyphs">(3,614K)</text>
<text x="60.8" y="384.2" font-size="15.6" font-weight="bold" text-anchor="start" fill="#111" textLength="219.8" lengthAdjust="spacingAndGlyphs">Compact fluorescent lamp</text>
<text x="60.8" y="404.3" font-size="15.6" font-weight="bold" text-anchor="start" fill="#111" textLength="76.5" lengthAdjust="spacingAndGlyphs">(6,000K)</text>
<text x="342.9" y="384.2" font-size="15.6" font-weight="bold" text-anchor="start" fill="#111" textLength="157.9" lengthAdjust="spacingAndGlyphs">Incandescent lamp</text>
<text x="342.9" y="404.3" font-size="15.6" font-weight="bold" text-anchor="start" fill="#111" textLength="72.7" lengthAdjust="spacingAndGlyphs">(2,620K)</text>
<text x="62.6" y="632.0" font-size="15.6" font-weight="bold" text-anchor="start" fill="#111" textLength="170.6" lengthAdjust="spacingAndGlyphs">Cool white LED lamp</text>
<text x="62.6" y="652.4" font-size="15.6" font-weight="bold" text-anchor="start" fill="#111" textLength="77.1" lengthAdjust="spacingAndGlyphs">(4,000K)</text>
<text x="332.2" y="632.0" font-size="15.6" font-weight="bold" text-anchor="start" fill="#111" textLength="179.6" lengthAdjust="spacingAndGlyphs">Warm white LED lamp</text>
<text x="332.2" y="652.4" font-size="15.6" font-weight="bold" text-anchor="start" fill="#111" textLength="75.8" lengthAdjust="spacingAndGlyphs">(3,000K)</text>
<text x="66.1" y="862.0" font-size="16.6" font-weight="normal" text-anchor="middle" fill="#231f20" textLength="31.6" lengthAdjust="spacingAndGlyphs">380</text>
<text x="111.9" y="862.0" font-size="16.6" font-weight="normal" text-anchor="middle" fill="#231f20" textLength="31.6" lengthAdjust="spacingAndGlyphs">460</text>
<text x="157.7" y="862.0" font-size="16.6" font-weight="normal" text-anchor="middle" fill="#231f20" textLength="31.6" lengthAdjust="spacingAndGlyphs">540</text>
<text x="203.5" y="862.0" font-size="16.6" font-weight="normal" text-anchor="middle" fill="#231f20" textLength="31.6" lengthAdjust="spacingAndGlyphs">620</text>
<text x="249.3" y="862.0" font-size="16.6" font-weight="normal" text-anchor="middle" fill="#231f20" textLength="31.6" lengthAdjust="spacingAndGlyphs">700</text>
<text x="295.1" y="862.0" font-size="16.6" font-weight="normal" text-anchor="middle" fill="#231f20" textLength="31.6" lengthAdjust="spacingAndGlyphs">780</text>
<text x="111.3" y="885.6" font-size="16.4" font-weight="normal" text-anchor="start" fill="#231f20" textLength="136.6" lengthAdjust="spacingAndGlyphs">Wavelength (nm)</text>
<text x="335.4" y="862.0" font-size="16.6" font-weight="normal" text-anchor="middle" fill="#231f20" textLength="31.6" lengthAdjust="spacingAndGlyphs">380</text>
<text x="381.3" y="862.0" font-size="16.6" font-weight="normal" text-anchor="middle" fill="#231f20" textLength="31.6" lengthAdjust="spacingAndGlyphs">460</text>
<text x="427.2" y="862.0" font-size="16.6" font-weight="normal" text-anchor="middle" fill="#231f20" textLength="31.6" lengthAdjust="spacingAndGlyphs">540</text>
<text x="473.2" y="862.0" font-size="16.6" font-weight="normal" text-anchor="middle" fill="#231f20" textLength="31.6" lengthAdjust="spacingAndGlyphs">620</text>
<text x="519.1" y="862.0" font-size="16.6" font-weight="normal" text-anchor="middle" fill="#231f20" textLength="31.6" lengthAdjust="spacingAndGlyphs">700</text>
<text x="565.0" y="862.0" font-size="16.6" font-weight="normal" text-anchor="middle" fill="#231f20" textLength="31.6" lengthAdjust="spacingAndGlyphs">780</text>
<text x="380.6" y="885.6" font-size="16.4" font-weight="normal" text-anchor="start" fill="#231f20" textLength="136.6" lengthAdjust="spacingAndGlyphs">Wavelength (nm)</text>
<rect x="584.8" y="410.1" width="165.2" height="182.3" fill="#000"/>
<path d="M585.5,441 L556.3,445.5 L585.5,450.2 Z" fill="#000"/>
<text x="598.8" y="434.09999999999997" font-size="16.8" font-weight="normal" text-anchor="start" fill="#e8e8e8" textLength="107.5" lengthAdjust="spacingAndGlyphs">Incandescent</text>
<text x="598.8" y="454.7" font-size="16.8" font-weight="normal" text-anchor="start" fill="#e8e8e8" textLength="135.10000000000002" lengthAdjust="spacingAndGlyphs">lighting provides</text>
<text x="598.8" y="475.3" font-size="16.8" font-weight="normal" text-anchor="start" fill="#e8e8e8" textLength="126.3" lengthAdjust="spacingAndGlyphs">a relatively high</text>
<text x="598.8" y="494.9" font-size="16.8" font-weight="normal" text-anchor="start" fill="#e8e8e8" textLength="122.5" lengthAdjust="spacingAndGlyphs">amount of light</text>
<text x="598.8" y="515.4000000000001" font-size="16.8" font-weight="normal" text-anchor="start" fill="#e8e8e8" textLength="131.10000000000002" lengthAdjust="spacingAndGlyphs">in the visible red</text>
<text x="598.8" y="535.6" font-size="16.8" font-weight="normal" text-anchor="start" fill="#e8e8e8" textLength="130.0" lengthAdjust="spacingAndGlyphs">and the invisible</text>
<text x="598.8" y="556.2" font-size="16.8" font-weight="normal" text-anchor="start" fill="#e8e8e8" textLength="99.1" lengthAdjust="spacingAndGlyphs">infrared (not</text>
<text x="598.8" y="576.4000000000001" font-size="16.8" font-weight="normal" text-anchor="start" fill="#e8e8e8" textLength="126.3" lengthAdjust="spacingAndGlyphs">shown) spectra.</text>
<rect x="584.8" y="669.3" width="165.2" height="165" fill="#000"/>
<path d="M585.5,804.7 L541.5,809.6 L585.5,814.2 Z" fill="#000"/>
<text x="598.9" y="696.1" font-size="16.8" font-weight="normal" text-anchor="start" fill="#e8e8e8" textLength="109.6" lengthAdjust="spacingAndGlyphs">Modern LEDs,</text>
<text x="598.9" y="716.2" font-size="16.8" font-weight="normal" text-anchor="start" fill="#e8e8e8" textLength="80.7" lengthAdjust="spacingAndGlyphs">even ones</text>
<text x="598.9" y="736.2" font-size="16.8" font-weight="normal" text-anchor="start" fill="#e8e8e8" textLength="102.2" lengthAdjust="spacingAndGlyphs">advertising a</text>
<text x="598.9" y="756.4000000000001" font-size="16.8" font-weight="normal" text-anchor="start" fill="#e8e8e8" textLength="136.0" lengthAdjust="spacingAndGlyphs">'warm' spectrum,</text>
<text x="598.9" y="776.4000000000001" font-size="16.8" font-weight="normal" text-anchor="start" fill="#e8e8e8" textLength="112.2" lengthAdjust="spacingAndGlyphs">don't typically</text>
<text x="598.9" y="797.0" font-size="16.8" font-weight="normal" text-anchor="start" fill="#e8e8e8" textLength="109.6" lengthAdjust="spacingAndGlyphs">provide much</text>
<text x="598.9" y="816.8000000000001" font-size="16.8" font-weight="normal" text-anchor="start" fill="#e8e8e8" textLength="105.7" lengthAdjust="spacingAndGlyphs">infrared light.</text>
<text x="681.3" y="898.2" font-family="Liberation Serif" font-weight="bold" font-size="16" fill="#a3a6a8" stroke="#a3a6a8" stroke-width="0.3">©</text>
<text x="694.2" y="899.0" font-family="Liberation Serif" font-weight="bold" font-size="21.6" fill="#a3a6a8" stroke="#a3a6a8" stroke-width="0.3" textLength="60" lengthAdjust="spacingAndGlyphs">nature</text>
</svg></body></html>
